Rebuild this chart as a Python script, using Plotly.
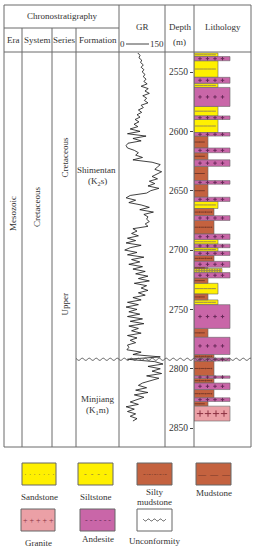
import numpy as np
import plotly.graph_objects as go

W, H = 257, 550

# ---------------- data ----------------
depth_ticks = [2550, 2600, 2650, 2700, 2750, 2800, 2850]

gr_depth = np.arange(2534, 2845, 2)
gr_values = [
    58, 66, 62, 72, 68, 78, 70, 80, 74, 84,
    78, 88, 80, 92, 70, 96, 84, 100, 76, 90,
    82, 95, 70, 78, 60, 72, 55, 66, 48, 62,
    44, 58, 30, 66, 20, 88, 40, 70, 22, 15,
    20, 45, 60, 50, 75, 40, 110, 140, 130, 120,
    145, 125, 110, 130, 100, 120, 95, 135, 105, 90,
    30, 15, 50, 25, 70, 100, 65, 115, 80, 95,
    90, 100, 85, 95, 40, 55, 35, 60, 20, 50,
    15, 70, 30, 10, 55, 20, 80, 35, 65, 25,
    75, 40, 85, 50, 95, 60, 100, 45, 90, 70,
    95, 60, 85, 40, 70, 20, 60, 15, 55, 25,
    65, 20, 75, 30, 80, 25, 60, 35, 70, 20,
    55, 30, 50, 20, 25, 18, 70, 40, 140, 20,
    120, 150, 95, 140, 110, 145, 90, 135, 100, 75,
    60, 90, 50, 95, 45, 80, 55, 30, 60, 15,
    45, 20, 50, 30, 55, 40,
]

litho_top = [2534, 2537, 2540.5, 2554.5, 2559.5, 2563, 2579, 2587, 2590, 2601,
             2604, 2614, 2618, 2624, 2629.5, 2641.5, 2644.5, 2655.5, 2659, 2665,
             2671, 2675, 2686.5, 2691, 2695, 2698, 2701, 2704.5, 2709.5, 2714.5,
             2715.5, 2719, 2723.5, 2728, 2737, 2742, 2746, 2766, 2773.5, 2788,
             2791, 2793.5, 2806, 2808, 2812, 2817.5, 2824.5, 2827.5, 2831.5]
litho_base = litho_top[1:] + [2844]
litho_type = ["Siltstone", "Andesite", "Siltstone", "Andesite", "Siltstone", "Andesite",
              "Siltstone", "Andesite", "Siltstone", "Andesite",
              "Mudstone", "Andesite", "Mudstone", "Andesite", "Mudstone", "Andesite",
              "Mudstone", "Andesite", "Siltstone", "Silty mudstone",
              "Andesite", "Silty mudstone", "Andesite", "Siltstone", "Andesite",
              "Siltstone", "Andesite", "Silty mudstone", "Andesite", "Mudstone",
              "Sandstone", "Andesite", "Mudstone", "Siltstone", "Mudstone",
              "Siltstone", "Andesite", "Mudstone", "Andesite", "Silty mudstone",
              "Andesite", "Silty mudstone", "Andesite", "Silty mudstone", "Andesite",
              "Silty mudstone", "Andesite", "Mudstone", "Granite"]

unconformity_depth = 2792

# ---------------- styles ----------------
FONT = "Liberation Serif"
TXT = "#333333"
LINE = "#6a6a6a"
FS = 9
style = {
    "Sandstone":      dict(w=28, fill="#FFF000", mk="circle", ms=2.0, mc="#9a8a50", sp=2.6, st=2.5),
    "Siltstone":      dict(w=24, fill="#FFF000", mk="line-ew", ms=3, mc="#9a8a50", sp=4.2, st=3),
    "Silty mudstone": dict(w=20, fill="#C4623F", mk="line-ew", ms=3, mc="#7a3a2a", sp=3.0, st=2.5),
    "Mudstone":       dict(w=14, fill="#C4623F", mk="line-ew", ms=4, mc="#7a3a2a", sp=5.0, st=3),
    "Andesite":       dict(w=36, fill="#C966A8", mk="cross-thin", ms=2.5, mc="#6a2a5a", sp=7.5, st=6),
    "Granite":        dict(w=36, fill="#EBA0A6", mk="cross-thin", ms=4.5, mc="#8a3040", sp=8.0, st=6),
}


def px(x):
    return x / W


def py(y):
    return 1 - y / H


fig = go.Figure()

# lithology bars
top = np.array(litho_top)
base = np.array(litho_base)
types = np.array(litho_type)
for t, s in style.items():
    m = types == t
    if not m.any():
        continue
    mids = (top[m] + base[m]) / 2
    th = base[m] - top[m]
    fig.add_trace(go.Bar(
        orientation="h", y=mids, x=[s["w"]] * int(m.sum()), width=th, base=0,
        xaxis="x2", yaxis="y", marker=dict(color=s["fill"], line=dict(color="#666666", width=0.6)),
        showlegend=False, hoverinfo="skip"))

# lithology pattern marks (one row at mid depth of each layer)
for t, s in style.items():
    xs_all, ys_all = [], []
    for tp, a, b in zip(litho_type, litho_top, litho_base):
        if tp != t:
            continue
        xs = np.arange(s["st"], s["w"] - 1.5, s["sp"])
        xs_all += list(xs)
        ys_all += [(a + b) / 2] * len(xs)
    if not xs_all:
        continue
    if t == "Silty mudstone":
        xs_all = np.array(xs_all)
        ys_all = np.array(ys_all)
        idx = np.arange(len(xs_all))
        fig.add_trace(go.Scatter(x=xs_all[idx % 2 == 0], y=ys_all[idx % 2 == 0], mode="markers",
                                 xaxis="x2", yaxis="y", showlegend=False, hoverinfo="skip",
                                 marker=dict(symbol="line-ew", size=3, line=dict(color=s["mc"], width=1))))
        fig.add_trace(go.Scatter(x=xs_all[idx % 2 == 1], y=ys_all[idx % 2 == 1], mode="markers",
                                 xaxis="x2", yaxis="y", showlegend=False, hoverinfo="skip",
                                 marker=dict(symbol="circle", size=1.6, color=s["mc"])))
    else:
        fig.add_trace(go.Scatter(
            x=xs_all, y=ys_all, mode="markers", xaxis="x2", yaxis="y", showlegend=False,
            hoverinfo="skip",
            marker=dict(symbol=s["mk"], size=s["ms"], color=s["mc"],
                        line=dict(color=s["mc"], width=1))))

# GR curve
fig.add_trace(go.Scatter(x=gr_values, y=gr_depth, mode="lines", xaxis="x", yaxis="y",
                         line=dict(color="#111111", width=0.8), showlegend=False, hoverinfo="skip"))

shapes = []


def hline(x0, x1, y, color=LINE, w=1):
    shapes.append(dict(type="line", xref="paper", yref="paper", x0=px(x0), x1=px(x1),
                       y0=py(y), y1=py(y), line=dict(color=color, width=w)))


def vline(x, y0, y1, color=LINE, w=1):
    shapes.append(dict(type="line", xref="paper", yref="paper", x0=px(x), x1=px(x),
                       y0=py(y0), y1=py(y1), line=dict(color=color, width=w)))


# table frame
hline(4, 251, 5)
hline(4, 119, 28)
hline(4, 251, 52)
hline(4, 251, 447)
for x in (4, 119, 165, 194, 251):
    vline(x, 5, 447)
for x in (22, 52, 76):
    vline(x, 28, 447)

# GR scale line in header
hline(126, 149, 44, color="#444444", w=1)

# unconformity (wavy) across formation to lithology
xw = np.arange(76, 251.5, 0.5)
path = "M " + " L ".join(f"{px(x):.5f},{unconformity_depth + 0.9 * np.sin(2 * np.pi * x / 7):.3f}" for x in xw)
shapes.append(dict(type="path", xref="paper", yref="y", path=path,
                   line=dict(color="#555555", width=1)))

annotations = []


def txt(x, y, s, size=FS, angle=0, color=TXT, xanchor="center"):
    annotations.append(dict(x=px(x), y=py(y), xref="paper", yref="paper", text=s,
                            showarrow=False, textangle=angle, xanchor=xanchor, yanchor="middle",
                            font=dict(family=FONT, size=size, color=color)))


# headers
txt(61.5, 16, "Chronostratigraphy")
txt(13, 40, "Era")
txt(37, 40, "System")
txt(64, 40, "Series")
txt(97.5, 40, "Formation")
txt(142, 27, "GR")
txt(122.5, 44, "0")
txt(157, 44, "150")
txt(179.5, 27, "Depth")
txt(179.5, 42, "(m)")
txt(222.5, 27, "Lithology")

# column texts
txt(13, 214, "Mesozoic", angle=-90)
txt(37, 207, "Cretaceous", angle=-90)
txt(64.5, 158, "Cretaceous", angle=-90)
txt(64.5, 304, "Upper", angle=-90)
txt(96, 170, "Shimentan")
txt(97, 181, "(K<sub>2</sub>s)")
txt(97.5, 399, "Minjiang")
txt(97.5, 410, "(K<sub>1</sub>m)")

# legend
legend_items = [
    ("Sandstone", 22, 56, 463, 485, "#FFF000", "· · · · · · ·", "#8a7a40", ["Sandstone"], 497),
    ("Siltstone", 78, 113, 463, 485, "#FFF000", "-  -  -  -", "#8a7a40", ["Siltstone"], 497),
    ("Silty mudstone", 137, 172, 463, 485, "#C4623F", "-·-·-·-·-", "#7a3a2a", ["Silty", "mudstone"], 492),
    ("Mudstone", 196, 231, 463, 485, "#C4623F", "—  —  —", "#7a3a2a", ["Mudstone"], 493),
    ("Granite", 21, 55, 509, 531, "#EBA0A6", "+ + + + +", "#8a3040", ["Granite"], 543),
    ("Andesite", 80, 115, 509, 531, "#C966A8", "- - - - - -", "#6a2a5a", ["Andesite"], 539),
    ("Unconformity", 137, 172, 509, 531, "#FFFFFF", "", "#555555", ["Unconformity"], 541),
]
for name, x0, x1, y0, y1, fill, pat, pc, lab, ly in legend_items:
    shapes.append(dict(type="rect", xref="paper", yref="paper", x0=px(x0), x1=px(x1),
                       y0=py(y1), y1=py(y0), fillcolor=fill, line=dict(color="#666666", width=1)))
    if pat:
        txt((x0 + x1) / 2, (y0 + y1) / 2, pat, size=8, color=pc)
    for k, line_txt in enumerate(lab):
        txt((x0 + x1) / 2, ly + k * 10, line_txt)

# wavy line in unconformity legend box
xl = np.arange(143, 166.5, 0.5)
lpath = "M " + " L ".join(f"{px(x):.5f},{py(520 + 1.0 * np.sin(2 * np.pi * x / 6)):.5f}" for x in xl)
shapes.append(dict(type="path", xref="paper", yref="paper", path=lpath,
                   line=dict(color="#555555", width=1)))

fig.update_layout(
    width=W, height=H, margin=dict(l=0, r=0, t=0, b=0),
    paper_bgcolor="white", plot_bgcolor="white",
    barmode="overlay", hovermode=False,
    shapes=shapes, annotations=annotations,
    xaxis=dict(domain=[px(122), px(163)], range=[0, 150], visible=False, anchor="y"),
    xaxis2=dict(domain=[px(194), px(250)], range=[0, 56], visible=False, anchor="y"),
    yaxis=dict(domain=[py(447), py(52)], range=[2865.9, 2533.15], anchor="x2",
               tickvals=depth_ticks, ticks="outside", ticklen=3, tickcolor="#444444",
               showgrid=False, zeroline=False, showline=False,
               tickfont=dict(family=FONT, size=9.5, color=TXT)),
)

fig.write_html(
    "out.html",
    config={"displayModeBar": False, "staticPlot": True},
    post_script="document.body.style.margin='0';document.body.style.padding='0';"
                "document.body.style.overflow='hidden';",
)
